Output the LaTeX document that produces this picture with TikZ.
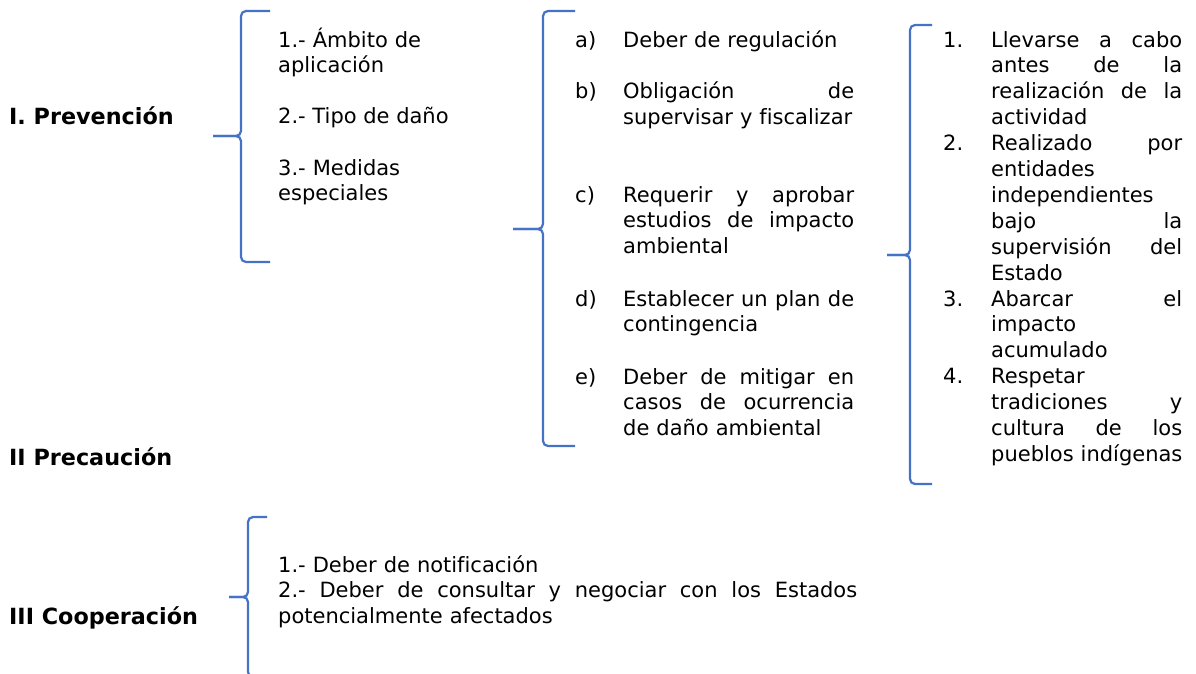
\documentclass[tikz,border=0pt]{standalone}
\usepackage{fontspec}
\setmainfont{DejaVu Sans}[Ligatures=NoCommon]
\usetikzlibrary{positioning}
\definecolor{braceblue}{HTML}{4472C4}
\newcommand{\justline}[2]{\leavevmode\hbox to #1{\spaceskip=.318em plus 1fil\relax #2}}
\tikzstyle{txt} = [anchor=base west, inner sep=0pt, align=left, font=\fontsize{21}{25.9}\selectfont]
\tikzstyle{head} = [txt, font=\fontsize{22.3}{25.9}\selectfont\bfseries]
\tikzstyle{brace} = [line width=2.2pt, braceblue, rounded corners=5pt]

\begin{document}
\begin{tikzpicture}[x=1pt,y=-1pt]
\useasboundingbox (0,0) rectangle (1196,673);
\foreach \e/\v/\t/\a/\m/\b in {270/241/213/11/136/262, 575/543/513/11/229/446, 932/910/887/25/255/484, 267/248/229/517/597/677}{
	\draw[brace] (\e,\a)--(\v,\a)--(\v,\m)--(\t,\m);
	\draw[brace] (\t,\m)--(\v,\m)--(\v,\b)--(\e,\b);
}
\node[head] (prev) at (9,124) {I. Prevención};
\node[head] (prec) at (9,465) {II Precaución};
\node[head] (coop) at (9,624) {III Cooperación};

\node[txt, text width=200pt] (amb) at (278,47) {1.- Ámbito de\\aplicación};
\node[txt] (tipo) at (278,123.5) {2.- Tipo de daño};
\node[txt, text width=200pt] (med) at (278,175) {3.- Medidas\\especiales};

\foreach \l/\y in {a)/47, b)/98.5, c)/202, d)/306, e)/384}
	\node[txt] at (575,\y) {\l};
\node[txt, text width=231pt] (reg) at (623,47) {Deber de regulación};
\node[txt, text width=231pt] (sup) at (623,98.5) {\justline{231pt}{Obligación de}\\supervisar y fiscalizar};
\node[txt, text width=231pt] (eia) at (623,202) {\justline{231pt}{Requerir y aprobar}\\\justline{231pt}{estudios de impacto}\\ambiental};
\node[txt, text width=231pt] (plan) at (623,306) {\justline{231pt}{Establecer un plan de}\\contingencia};
\node[txt, text width=231pt] (mit) at (623,384) {\justline{231pt}{Deber de mitigar en}\\\justline{231pt}{casos de ocurrencia}\\de daño ambiental};

\foreach \l/\y in {1./47, 2./150.6, 3./306, 4./383.7}
	\node[txt] at (943,\y) {\l};
\node[txt, text width=191pt] (ant) at (991,47) {\justline{191pt}{Llevarse a cabo}\\\justline{191pt}{antes de la}\\\justline{191pt}{realización de la}\\actividad};
\node[txt, text width=191pt] (ind) at (991,150.6) {\justline{191pt}{Realizado por}\\entidades\\independientes\\\justline{191pt}{bajo la}\\\justline{191pt}{supervisión del}\\Estado};
\node[txt, text width=191pt] (acu) at (991,306) {\justline{191pt}{Abarcar el}\\impacto\\acumulado};
\node[txt, text width=191pt] (tra) at (991,383.7) {Respetar\\\justline{191pt}{tradiciones y}\\\justline{191pt}{cultura de los}\\\mbox{pueblos indígenas}};

\node[txt, text width=579pt] (noti) at (278,572) {1.- Deber de notificación\\\justline{579pt}{2.- Deber de consultar y negociar con los Estados}\\potencialmente afectados};
\end{tikzpicture}
\end{document}
